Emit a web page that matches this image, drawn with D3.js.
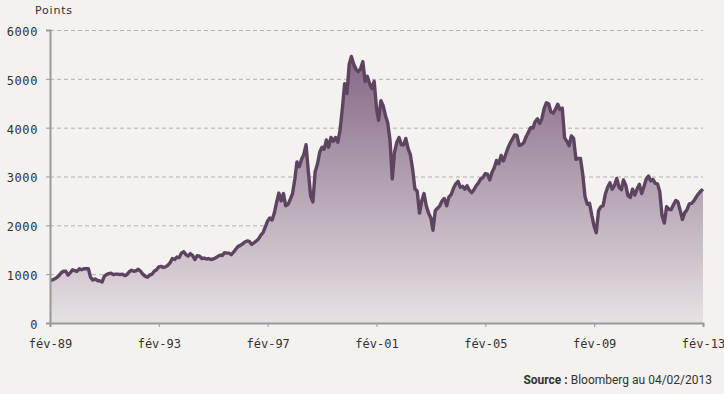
<!DOCTYPE html>
<html><head><meta charset="utf-8">
<script src="https://cdn.jsdelivr.net/npm/d3@7"></script>
<style>
html,body{margin:0;padding:0;background:#f4f2ef;}
svg{display:block;}
</style></head>
<body>
<script>
const startYear = 1989, startMonth = 1; // février 1989
const values = [
 870,880,900,930,970,1030,1060,1060,980,1030,1090,
 1070,1060,1110,1090,1110,1110,1110,930,880,900,870,860,
 840,960,990,1010,1020,990,1000,1000,990,1000,970,990,
 1050,1080,1060,1070,1100,1060,1000,960,940,980,1000,1060,
 1090,1150,1160,1140,1150,1180,1230,1320,1300,1350,1340,1430,
 1460,1400,1370,1420,1380,1300,1380,1370,1320,1330,1310,1320,
 1300,1310,1330,1360,1390,1380,1440,1430,1430,1400,1450,1510,
 1570,1590,1620,1660,1680,1670,1610,1640,1680,1720,1800,1850,
 1970,2090,2150,2110,2250,2470,2660,2500,2650,2400,2430,2530,
 2650,2950,3300,3200,3350,3450,3650,3100,2600,2480,3100,3250,
 3500,3600,3560,3750,3600,3800,3720,3800,3700,3950,4400,4900,
 4700,5300,5460,5300,5200,5150,5200,5350,4950,5050,4900,4800,
 4950,4400,4150,4550,4450,4250,4100,3750,2950,3500,3700,3800,
 3650,3650,3780,3570,3450,3150,2750,2700,2250,2500,2650,2400,
 2250,2150,1900,2300,2350,2400,2500,2550,2400,2580,2630,2760,
 2850,2900,2780,2800,2740,2810,2720,2670,2730,2810,2870,2950,
 2980,3060,3050,2930,3080,3180,3330,3260,3430,3320,3450,3580,
 3690,3770,3850,3840,3640,3650,3690,3810,3900,4000,3990,4120,
 4180,4090,4180,4390,4510,4490,4320,4300,4380,4480,4370,4400,
 3790,3720,3630,3830,3780,3350,3370,3370,3040,2590,2430,2450,
 2200,1980,1850,2300,2380,2400,2640,2780,2870,2740,2820,2960,
 2780,2730,2930,2820,2610,2570,2740,2620,2750,2840,2650,2790,
 2950,3010,2910,2940,2860,2850,2700,2200,2050,2380,2330,2320,
 2420,2510,2480,2300,2120,2260,2320,2440,2450,2500,2580,2640,
 2700,2740
];
const yTicks = [0,1000,2000,3000,4000,5000,6000];
const xTickYears = [1989,1993,1997,2001,2005,2009,2013];
const xTickLabels = ["fév-89","fév-93","fév-97","fév-01","fév-05","fév-09","fév-13"];
const yTitle = "Points";
const sourceBold = "Source :";
const sourceText = " Bloomberg au 04/02/2013";

const W = 724, H = 394;
const data = values.map((v,i)=>({d:new Date(startYear, startMonth + i, 4), v}));

const svg = d3.select("body").append("svg").attr("width",W).attr("height",H);
svg.append("rect").attr("width",W).attr("height",H).attr("fill","#f4f2ef");

const x = d3.scaleTime().domain([new Date(1989,1,4), new Date(2013,1,4)]).range([50,703]);
const y = d3.scaleLinear().domain([0,6000]).range([323,30]);

const defs = svg.append("defs");
const grad = defs.append("linearGradient").attr("id","g").attr("gradientUnits","userSpaceOnUse")
  .attr("x1",0).attr("x2",0).attr("y1",y(5500)).attr("y2",y(0));
grad.append("stop").attr("offset",0).attr("stop-color","#846886");
grad.append("stop").attr("offset",0.5).attr("stop-color","#b5a4b3");
grad.append("stop").attr("offset",1).attr("stop-color","#e6e2e4");

// gridlines
svg.append("g").selectAll("line").data(yTicks.filter(t=>t>0)).join("line")
  .attr("x1",50).attr("x2",703).attr("y1",d=>y(d)+0.5).attr("y2",d=>y(d)+0.5)
  .attr("stroke","#b3afae").attr("stroke-width",1).attr("stroke-dasharray","4,3");

// area
svg.append("path").datum(data)
  .attr("d", d3.area().x(d=>x(d.d)).y0(y(0)).y1(d=>y(d.v)))
  .attr("fill","url(#g)");

// line
svg.append("path").datum(data)
  .attr("d", d3.line().x(d=>x(d.d)).y(d=>y(d.v)))
  .attr("fill","none").attr("stroke","#5e4461").attr("stroke-width",3.4).attr("stroke-linejoin","round");

// y axis
const ya = svg.append("g").attr("transform","translate(50,0)")
  .call(d3.axisLeft(y).tickValues(yTicks).tickSize(4).tickPadding(8).tickFormat(d3.format("d")));
ya.select(".domain").attr("stroke","#9a9898").attr("stroke-width",2);
ya.selectAll(".tick line").attr("stroke","#9a9898");
ya.selectAll("text").attr("font-family","DejaVu Sans Mono").attr("font-size",12)
  .attr("letter-spacing","0.6px").attr("fill","#333").attr("dy","0.45em");

// x axis
const xa = svg.append("g").attr("transform","translate(0,323)")
  .call(d3.axisBottom(x).tickValues(xTickYears.map(yr=>new Date(yr,1,4))).tickSize(4).tickPadding(12)
    .tickFormat((d,i)=>xTickLabels[i]));
xa.select(".domain").attr("stroke","#9a9898").attr("stroke-width",2);
xa.selectAll(".tick line").attr("stroke","#9a9898");
xa.selectAll("text").attr("font-family","DejaVu Sans Mono").attr("font-size",12).attr("fill","#333");

svg.append("text").attr("x",35).attr("y",14).text(yTitle)
  .attr("font-family","DejaVu Sans").attr("font-size",11).attr("letter-spacing","0.8px").attr("fill","#333");

const src = svg.append("text").attr("x",712).attr("y",384).attr("text-anchor","end")
  .attr("font-family","Liberation Sans Narrow, Roboto, sans-serif").attr("font-size",12).attr("fill","#333");
src.append("tspan").attr("font-weight","bold").text(sourceBold);
src.append("tspan").text(sourceText);
</script>
</body></html>
